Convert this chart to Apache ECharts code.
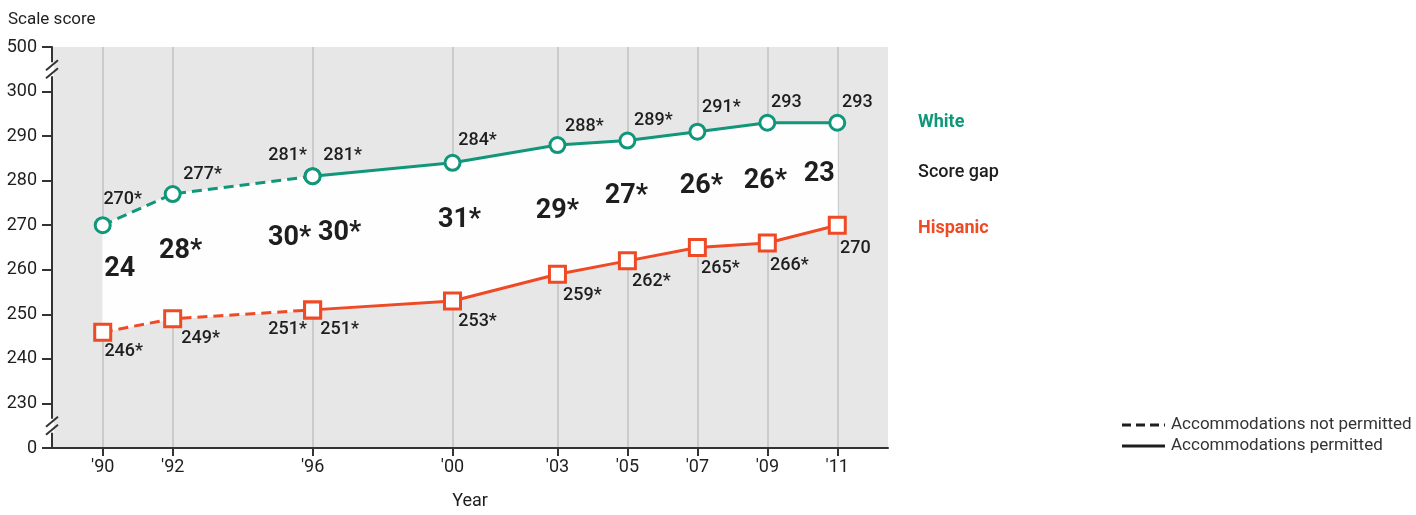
<!DOCTYPE html>
<html>
<head>
<meta charset="utf-8">
<title>Scale score trend</title>
<script src="https://cdn.jsdelivr.net/npm/echarts@6/dist/echarts.min.js"></script>
<style>
  html, body { margin: 0; padding: 0; background: #fff; }
  #chart { width: 1416px; height: 515px; }
</style>
</head>
<body>
<div id="chart"></div>
<script>
// data
const years = [1990, 1992, 1996, 1996, 2000, 2003, 2005, 2007, 2009, 2011]
const permitted = [false, false, false, true, true, true, true, true, true, true]
const whiteScores = [270, 277, 281, 281, 284, 288, 289, 291, 293, 293]
const whiteSignificant = [true, true, true, true, true, true, true, true, false, false]
const hispanicScores = [246, 249, 251, 251, 253, 259, 262, 265, 266, 270]
const hispanicSignificant = [true, true, true, true, true, true, true, true, true, false]
const scoreGaps = [24, 28, 30, 30, 31, 29, 27, 26, 26, 23]
const gapSignificant = [false, true, true, true, true, true, true, true, true, false]
const tickYears = [1990, 1992, 1996, 2000, 2003, 2005, 2007, 2009, 2011]

// label nudges (style only)
const whiteLabelOffsets = [[20, -26], [30, -20], [-25, -21], [30, -21], [25, -22], [27, -19], [26, -20], [24, -24], [19, -20], [20, -20]]
const hispLabelOffsets = [[21, 19], [28, 20], [-25, 20], [27, 20], [25, 21], [25, 21], [24, 21], [23, 21], [22, 22], [18, 23]]
const gapLabelOffsets = [[17, -9], [8, -5], [-23, -5], [27, -10], [7, -12], [0, 2], [-1, -4], [4, -3], [-2, -2], [-18, 0]]

const TEAL = '#10977a'
const ORANGE = '#ef4a26'
const INK = '#1e1e1e'
const BAND = 'rgba(254,254,254,0.98)'
const FONT = "Roboto, 'Liberation Sans', sans-serif"

const chart = echarts.init(document.getElementById('chart'))

function star (v, sig) {
  return sig ? v + '*' : String(v)
}

function pointSeries (scores, sig, offsets, wantPermitted, color, symbol, size) {
  const data = []
  years.forEach((y, i) => {
    const inPart = wantPermitted ? permitted[i] : (!permitted[i])
    if (!inPart) return
    data.push({
      value: [y, scores[i]],
      label: { offset: offsets[i], formatter: star(scores[i], sig[i]) }
    })
  })
  return {
    type: 'line',
    data: data,
    z: 12,
    symbol: symbol,
    symbolSize: size,
    showAllSymbol: true,
    lineStyle: { color: color, width: 3, type: wantPermitted ? 'solid' : [10, 6] },
    itemStyle: { color: '#fff', borderColor: color, borderWidth: 3 },
    label: {
      show: true,
      position: 'inside',
      color: INK,
      fontFamily: FONT,
      fontSize: 18,
      fontWeight: 500
    },
    emphasis: { disabled: true }
  }
}

// white band between the two lines, one point per year
const bandYears = []
const bandWhite = []
const bandHispanic = []
years.forEach((y, i) => {
  if (bandYears.indexOf(y) !== -1) return
  bandYears.push(y)
  bandWhite.push(whiteScores[i])
  bandHispanic.push(hispanicScores[i])
})

const gapData = years.map((y, i) => ({
  value: [y, (whiteScores[i] + hispanicScores[i]) / 2],
  label: { offset: gapLabelOffsets[i], formatter: star(scoreGaps[i], gapSignificant[i]) }
}))

const option = {
  animation: false,
  grid: {
    left: 52,
    right: 528,
    top: 47,
    bottom: 63,
    show: true,
    backgroundColor: '#e7e7e7',
    borderWidth: 0
  },
  xAxis: {
    type: 'value',
    min: 1988.55,
    max: 2012.45,
    name: 'Year',
    nameLocation: 'middle',
    nameGap: 44,
    nameTextStyle: { color: INK, fontFamily: FONT, fontSize: 18 },
    axisLine: { lineStyle: { color: '#333', width: 2 } },
    axisTick: { customValues: tickYears, length: 8, lineStyle: { color: '#333', width: 2 } },
    axisLabel: {
      customValues: tickYears,
      margin: 10,
      color: INK,
      fontFamily: FONT,
      fontSize: 18,
      formatter: v => "'" + String(v).slice(2)
    },
    splitLine: { show: true, lineStyle: { color: '#cbcbcb', width: 2 } }
  },
  yAxis: {
    type: 'value',
    min: 220,
    max: 310,
    interval: 10,
    axisLine: { show: true, lineStyle: { color: '#333', width: 2 } },
    axisTick: { show: true, length: 10, lineStyle: { color: '#333', width: 2 } },
    axisLabel: {
      margin: 15,
      color: INK,
      fontFamily: FONT,
      fontSize: 18,
      formatter: v => v === 220 ? '0' : (v === 310 ? '500' : String(v))
    },
    splitLine: { show: false }
  },
  series: [
    {
      type: 'custom',
      coordinateSystem: 'cartesian2d',
      z: 10,
      data: bandYears.map((y, i) => [y, bandWhite[i], bandHispanic[i]]),
      renderItem: function (params, api) {
        const i = params.dataIndex
        if (i >= bandYears.length - 1) return { type: 'group', children: [] }
        const a = api.coord([bandYears[i], bandWhite[i]])
        const b = api.coord([bandYears[i + 1], bandWhite[i + 1]])
        const c = api.coord([bandYears[i + 1], bandHispanic[i + 1]])
        const d = api.coord([bandYears[i], bandHispanic[i]])
        return {
          type: 'polygon',
          shape: { points: [a, b, c, d] },
          style: { fill: BAND, stroke: BAND, lineWidth: 1 }
        }
      }
    },
    pointSeries(whiteScores, whiteSignificant, whiteLabelOffsets, false, TEAL, 'circle', 15),
    pointSeries(whiteScores, whiteSignificant, whiteLabelOffsets, true, TEAL, 'circle', 15),
    pointSeries(hispanicScores, hispanicSignificant, hispLabelOffsets, false, ORANGE, 'rect', 16),
    pointSeries(hispanicScores, hispanicSignificant, hispLabelOffsets, true, ORANGE, 'rect', 16),
    {
      type: 'scatter',
      data: gapData,
      symbolSize: 2,
      itemStyle: { color: 'rgba(0,0,0,0)', opacity: 1 },
      z: 13,
      label: {
        show: true,
        position: 'inside',
        color: INK,
        opacity: 1,
        fontFamily: FONT,
        fontSize: 27,
        fontWeight: 'bold'
      },
      emphasis: { disabled: true }
    }
  ]
}

chart.setOption(option)

// axis break marks and the text keys
function breakMark (value) {
  const p = chart.convertToPixel({ gridIndex: 0 }, [1988.55, value])
  const x = p[0]
  const y = p[1]
  return [
    { type: 'rect', shape: { x: x - 2, y: y - 7, width: 4, height: 14 }, style: { fill: '#fff' }, z: 20 },
    { type: 'line', shape: { x1: x - 6, y1: y + 1, x2: x + 6, y2: y - 9 }, style: { stroke: '#333', lineWidth: 2 }, z: 21 },
    { type: 'line', shape: { x1: x - 6, y1: y + 9, x2: x + 6, y2: y - 1 }, style: { stroke: '#333', lineWidth: 2 }, z: 21 }
  ]
}

function key (text, x, y, color, weight, size) {
  return {
    type: 'text',
    x: x,
    y: y,
    z: 22,
    style: {
      text: text,
      fill: color,
      font: weight + ' ' + (size || 18) + 'px ' + FONT,
      verticalAlign: 'middle'
    }
  }
}

chart.setOption({
  graphic: [
    ...breakMark(305),
    ...breakMark(225),
    key('Scale score', 8, 20, INK, 'normal', 17),
    key('White', 918, 122, TEAL, 'bold'),
    key('Score gap', 918, 172, INK, 500),
    key('Hispanic', 918, 228, ORANGE, 'bold'),
    { type: 'line', shape: { x1: 1122, y1: 425, x2: 1165, y2: 425 }, style: { stroke: INK, lineWidth: 3, lineDash: [9, 5] } },
    { type: 'line', shape: { x1: 1122, y1: 446, x2: 1165, y2: 446 }, style: { stroke: INK, lineWidth: 3 } },
    key('Accommodations not permitted', 1171, 425, '#333', 'normal', 17),
    key('Accommodations permitted', 1171, 446, '#333', 'normal', 17)
  ]
})
</script>
</body>
</html>
